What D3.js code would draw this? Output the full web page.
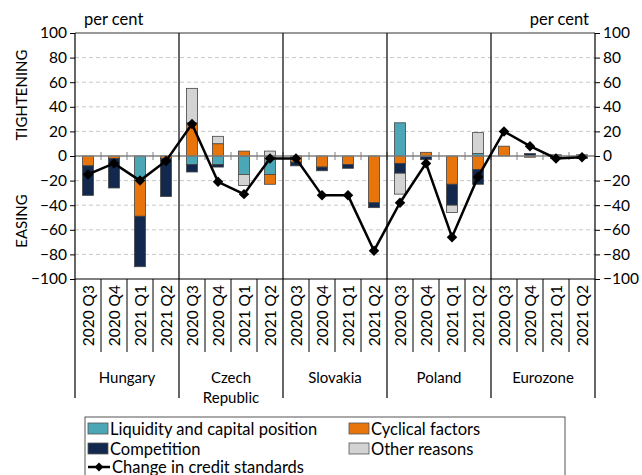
<!DOCTYPE html>
<html><head><meta charset="utf-8">
<script src="https://cdn.jsdelivr.net/npm/d3@7"></script>
<style>body{margin:0;background:#fff}svg{display:block}text{font-family:Lato,"Liberation Sans",sans-serif;fill:#000}</style>
</head><body><svg id="c" width="642" height="475"></svg>
<script>
const countries = ["Hungary", "Czech\nRepublic", "Slovakia", "Poland", "Eurozone"];
const quarters = ["2020 Q3", "2020 Q4", "2021 Q1", "2021 Q2"];
const seriesNames = ["Liquidity and capital position", "Cyclical factors", "Competition", "Other reasons"];
const liquidity   = [0, 0, -20, 0,   -7, -7, -15, -15,  0, 0, 0, 0,     27, 0, 0, 2,      0, 0, -1, 1];
const cyclical    = [-8, -2, -29, -2, 27, 10, 4, -8,    -5, -9, -7, -38, -6, 3, -23, -11,  8, -1, 1, 0];
const competition = [-24, -24, -41, -31, -6, -2, 0, 0,  -3, -3, -3, -4,  -8, -3, -17, -12, 0, 2, -1, -2];
const other       = [0, 0, 0, 0,     28, 6, -9, 4,      0, 0, 0, 0,     -17, 0, -6, 17,   0, 0, 0, 0];
const standards   = [-15, -6, -20, -4, 26, -21, -31, -2, -2, -32, -32, -77, -38, -6, -66, -17, 20, 8, -2, -1];
const yTicks = [100, 80, 60, 40, 20, 0, -20, -40, -60, -80, -100];
const colors = ["#4BA6B6", "#E8740C", "#12294D", "#D3D3D3"];

const svg = d3.select("#c");
const L = 75, R = 595, T = 33, B = 279;
const keys = countries.flatMap((c, i) => quarters.map(q => i + "|" + q));
const x = d3.scaleBand().domain(keys).range([L, R]).paddingInner(0.58).paddingOuter(0.29);
const y = d3.scaleLinear().domain([-100, 100]).range([B, T]);
const step = x.step();

// gridlines
svg.append("g").selectAll("line").data(yTicks.filter(v => v !== 0 && v !== 100 && v !== -100)).join("line")
  .attr("x1", L).attr("x2", R).attr("y1", d => y(d)).attr("y2", d => y(d))
  .attr("stroke", "#c8c8c8").attr("stroke-dasharray", "4,3").attr("stroke-width", 1);
svg.append("line").attr("x1", L).attr("x2", R).attr("y1", y(100)).attr("y2", y(100)).attr("stroke", "#777").attr("stroke-width", 1.3);

// axes
const yl = d3.axisLeft(y).tickValues(yTicks).tickSize(5).tickPadding(3);
const gL = svg.append("g").attr("transform", `translate(${L},0)`).call(yl);
const gR = svg.append("g").attr("transform", `translate(${R},0)`).call(d3.axisRight(y).tickValues(yTicks).tickSize(5).tickPadding(3));
[gL, gR].forEach(g => {
  g.select(".domain").remove();
  g.selectAll("line").attr("stroke", "#000");
  g.selectAll("text").style("font-size", "15.5px").style("font-family", "Lato, sans-serif");
});

// stacked bars
const series = [liquidity, cyclical, competition, other];
const rows = keys.map((k, i) => {
  let pos = 0, neg = 0;
  return series.map((s, j) => {
    const v = s[i];
    let y0, y1;
    if (v >= 0) { y0 = pos; y1 = pos + v; pos = y1; } else { y0 = neg; y1 = neg + v; neg = y1; }
    return { k, j, v, y0, y1 };
  }).filter(d => d.v !== 0);
}).flat();
svg.append("g").selectAll("rect").data(rows).join("rect")
  .attr("x", d => x(d.k)).attr("width", x.bandwidth())
  .attr("y", d => y(Math.max(d.y0, d.y1))).attr("height", d => Math.abs(y(d.y0) - y(d.y1)))
  .attr("fill", d => colors[d.j]).attr("stroke", "#444").attr("stroke-width", 0.8);

// zero line and small ticks
svg.append("line").attr("x1", L).attr("x2", R).attr("y1", y(0)).attr("y2", y(0)).attr("stroke", "#808080").attr("stroke-width", 1.3);
svg.append("g").selectAll("line").data(keys.slice(1)).join("line")
  .attr("x1", d => x(d) - (step - x.bandwidth()) / 2).attr("x2", d => x(d) - (step - x.bandwidth()) / 2)
  .attr("y1", y(0) - 4).attr("y2", y(0) + 4).attr("stroke", "#808080");

// frame lines: left/right and country separators
const sepX = d3.range(0, countries.length + 1).map(i => L + i * step * 4);
svg.append("g").selectAll("line").data(sepX).join("line")
  .attr("x1", d => d).attr("x2", d => d).attr("y1", T).attr("y2", 398).attr("stroke", "#000").attr("stroke-width", 1.2);
// quarter separators in label area
const qSep = keys.map((k, i) => i).filter(i => i % 4 !== 0).map(i => L + i * step);
svg.append("g").selectAll("line").data(qSep).join("line")
  .attr("x1", d => d).attr("x2", d => d).attr("y1", B).attr("y2", 352).attr("stroke", "#000").attr("stroke-width", 1);
svg.append("line").attr("x1", L).attr("x2", R).attr("y1", B).attr("y2", B).attr("stroke", "#000").attr("stroke-width", 1.2);

// category labels
svg.append("g").selectAll("text").data(keys).join("text")
  .attr("transform", d => `translate(${x(d) + x.bandwidth() / 2 + 5.5},${285}) rotate(-90)`)
  .attr("text-anchor", "end").style("font-size", "15.5px")
  .text(d => d.split("|")[1]);

// country labels
countries.forEach((c, i) => {
  const cx = L + (i + 0.5) * step * 4;
  const lines = c.split("\n");
  const t = svg.append("text").attr("x", cx).attr("y", 383).attr("text-anchor", "middle").style("font-size", "15px");
  lines.forEach((ln, li) => t.append("tspan").attr("x", cx).attr("dy", li ? 20 : 0).text(ln));
});

// line
const pts = keys.map((k, i) => [x(k) + x.bandwidth() / 2, y(standards[i])]);
svg.append("path").attr("d", d3.line()(pts)).attr("fill", "none").attr("stroke", "#000").attr("stroke-width", 2.5);
svg.append("g").selectAll("path").data(pts).join("path")
  .attr("transform", d => `translate(${d[0]},${d[1]})`)
  .attr("d", d3.symbol(d3.symbolDiamond2, 70)).attr("fill", "#000");

// axis titles
svg.append("text").attr("x", 84).attr("y", 25).style("font-size", "16.5px").text("per cent");
svg.append("text").attr("x", 589).attr("y", 25).attr("text-anchor", "end").style("font-size", "16.5px").text("per cent");
svg.append("text").attr("transform", "translate(27,95) rotate(-90)").attr("text-anchor", "middle").style("font-size", "15px").text("TIGHTENING");
svg.append("text").attr("transform", "translate(27,221) rotate(-90)").attr("text-anchor", "middle").style("font-size", "15px").text("EASING");

// legend
svg.append("rect").attr("x", 85).attr("y", 417).attr("width", 480).attr("height", 70).attr("fill", "none").attr("stroke", "#555").attr("stroke-width", 1);
const legPos = [[88, 429], [349, 429], [88, 449], [349, 449]];
seriesNames.forEach((n, i) => {
  const [lx, ly] = legPos[i];
  svg.append("rect").attr("x", lx).attr("y", ly - 6).attr("width", 20).attr("height", 11).attr("fill", colors[i]).attr("stroke", "#555").attr("stroke-width", 0.8);
  svg.append("text").attr("x", lx + 22).attr("y", ly + 5.5).style("font-size", "16.5px").text(n);
});
svg.append("line").attr("x1", 88).attr("x2", 110).attr("y1", 467).attr("y2", 467).attr("stroke", "#000").attr("stroke-width", 2.5);
svg.append("path").attr("transform", "translate(99,467)").attr("d", d3.symbol(d3.symbolDiamond2, 50)).attr("fill", "#000");
svg.append("text").attr("x", 112).attr("y", 472.5).style("font-size", "16.5px").text("Change in credit standards");
</script></body></html>
